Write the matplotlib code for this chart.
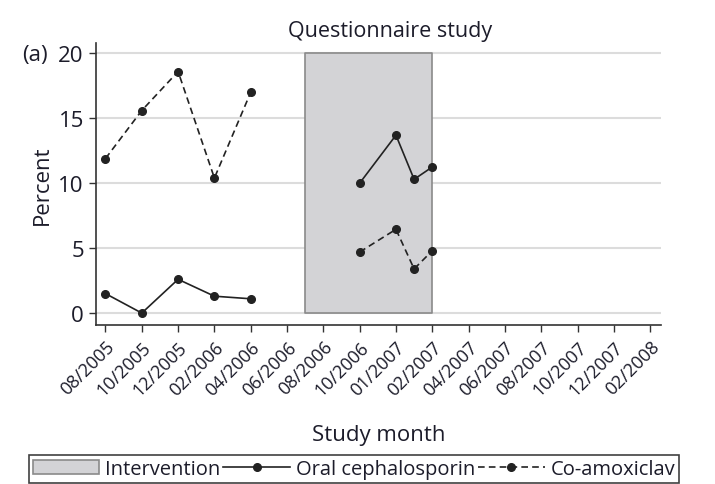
import numpy as np
import matplotlib
matplotlib.use("Agg")
import matplotlib.pyplot as plt
from matplotlib.patches import Patch
from matplotlib.lines import Line2D

plt.rcParams['font.family'] = ['Open Sans', 'DejaVu Sans']

months = ["08/2005", "10/2005", "12/2005", "02/2006", "04/2006", "06/2006",
          "08/2006", "10/2006", "01/2007", "02/2007", "04/2007", "06/2007",
          "08/2007", "10/2007", "12/2007", "02/2008"]

# survey rounds before and during the intervention (positions on the month axis)
pre_x = [0, 1, 2, 3, 4]
during_x = [7, 8, 8.5, 9]
oral_pre = [1.5, 0.0, 2.6, 1.3, 1.1]
oral_during = [10.0, 13.7, 10.3, 11.25]
coamox_pre = [11.9, 15.6, 18.6, 10.4, 17.0]
coamox_during = [4.7, 6.45, 3.4, 4.8]
intervention = (5.5, 9)

txt = '#1c1c2a'

fig = plt.figure(figsize=(7.15, 4.85), dpi=100)
ax = fig.add_axes([0.1338, 0.3278, 0.7907, 0.5815])

ax.fill_between(intervention, 0, 20, facecolor='#d3d3d6', edgecolor='#8a8a8a',
                linewidth=1.2, zorder=1)

for y in [0, 5, 10, 15, 20]:
    ax.axhline(y, color='#dcdcdc', lw=1.5, zorder=0)

ls_solid = dict(color='#222222', lw=1.2, marker='o', ms=5.5, zorder=3)
ls_dash = dict(color='#222222', lw=1.2, ls=(0, (4, 2.5)), marker='o', ms=5.5, zorder=3)
ax.plot(pre_x, oral_pre, **ls_solid)
ax.plot(during_x, oral_during, **ls_solid)
ax.plot(pre_x, coamox_pre, **ls_dash)
ax.plot(during_x, coamox_during, **ls_dash)

ax.set_xlim(-0.27, 15.3)
ax.set_ylim(-0.92, 20.8)
ax.set_xticks(range(len(months)))
ax.set_xticklabels(months, rotation=45, ha='right', rotation_mode='anchor',
                   fontsize=13, color=txt)
ax.set_yticks([0, 5, 10, 15, 20])
ax.tick_params(axis='y', labelsize=16, colors='#333333', labelcolor=txt, length=5, width=1)
ax.tick_params(axis='x', colors='#333333', labelcolor=txt, length=5, width=1, pad=4)
for s in ['top', 'right']:
    ax.spines[s].set_visible(False)
for s in ['left', 'bottom']:
    ax.spines[s].set_color('#333333')
    ax.spines[s].set_linewidth(1.2)

ax.set_title("Questionnaire study", fontsize=15.5, color=txt, pad=5, x=0.52)
ax.set_ylabel("Percent", fontsize=16, color=txt, labelpad=4)
ax.set_xlabel("Study month", fontsize=16, color=txt, labelpad=18)
fig.text(0.031, 0.885, "(a)", fontsize=16, color=txt, va='center')

handles = [Patch(facecolor='#d3d3d6', edgecolor='#8a8a8a', linewidth=1.2),
           Line2D([], [], **ls_solid),
           Line2D([], [], **ls_dash)]
labels = ["Intervention", "Oral cephalosporin", "Co-amoxiclav"]
leg = fig.legend(handles, labels, loc='lower left', bbox_to_anchor=(0.04, 0.002),
                 ncol=3, fontsize=14.5, frameon=True, fancybox=False, numpoints=1,
                 handlelength=3.3, handletextpad=0.3, columnspacing=0.15,
                 borderpad=0.2, borderaxespad=0.0, labelcolor=txt)
leg.get_frame().set_edgecolor('#111111')
leg.get_frame().set_linewidth(1.2)

fig.savefig("out.png", dpi=100)
